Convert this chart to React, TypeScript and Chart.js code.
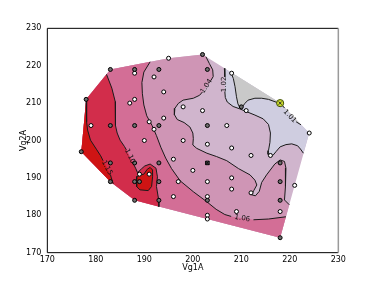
import React, { useEffect, useRef } from 'react';
import { Chart, registerables } from 'chart.js';

Chart.register(...registerables);

type P = [number, number];
type Pt = P | null;

// Axis range / ticks
const axisMin = 170;
const axisMax = 230;
const tickStep = 10;
const xTitle = 'Vg1A';
const yTitle = 'Vg2A';

// Convex hull of the measured points (Vg1A, Vg2A)
const hull: P[] = [
  [177, 197], [178, 211], [183, 219], [195, 222], [202, 223], [218, 210],
  [224, 202], [221, 188], [218, 174], [188, 184], [183, 189],
];

// Contour lines (null = gap for the inline label)
const c101: Pt[] = [
  [207.8, 218.3], [208.35, 216.6], [208.7, 214.4], [209.0, 211.7], [209.3, 209.8], [209.7, 208.8],
  [210.2, 209.0], [210.75, 209.95], [211.4, 210.8], [212.8, 211.3], [214.2, 211.3], [215.6, 211.0],
  [217.3, 210.2], [218.3, 209.6], [218.9, 208.7], null, [221.3, 205.0], [222.3, 204.2],
];
const c102: Pt[] = [
  [206.5, 219.3], [206.6, 217.0], null, [206.6, 213.1], [206.7, 211.5], [207.1, 210.3], [208.3, 209.1],
  [209.6, 208.5], [211.1, 207.7], [212.8, 206.8], [214.5, 205.8], [215.6, 204.3], [216.0, 202.0],
  [215.9, 199.5], [215.6, 197.3], [215.5, 196.3], [215.9, 195.8], [216.5, 196.0], [217.2, 197.1],
  [218.0, 198.3], [219.2, 198.9], [220.4, 199.1], [221.6, 198.6], [222.2, 197.7], [222.8, 196.6],
];
const c104: Pt[] = [
  [202.7, 222.4], [203.4, 220.6], [204.1, 218.9], [204.2, 217.1], [203.7, 216.0], null,
  [202.0, 213.0], [201.4, 212.1], [200.1, 211.3], [198.0, 210.8], [197.0, 209.9], [196.3, 208.6],
  [196.2, 206.9], [196.8, 205.6], [198.2, 204.8], [199.4, 203.6], [200.0, 202.0], [200.1, 200.5],
  [200.0, 198.8], [200.8, 197.9], [202.9, 196.6], [204.9, 195.7], [207.0, 194.6], [209.4, 192.5],
  [211.8, 190.8], [212.8, 189.4], [213.2, 188.1], [212.6, 186.7], [212.1, 185.5], [212.9, 185.2],
  [213.7, 186.4], [214.2, 188.8], [215.2, 190.8], [216.9, 193.7], [218.0, 194.8], [218.9, 194.4],
  [219.2, 192.6], [219.1, 187.7], [218.9, 184.1], [219.9, 182.8],
];
const c106: Pt[] = [
  [191.2, 221.05], [189.9, 218.3], [189.5, 215.5], [189.6, 212.5], [189.9, 209.5], [190.5, 206.6],
  [191.6, 204.0], [192.5, 201.3], [193.4, 198.2], [194.4, 195.3], [195.6, 192.5], [197.4, 189.2],
  [200.1, 186.3], [202.9, 183.6], [204.8, 181.6], [206.6, 180.2], [207.9, 179.7], null,
  [212.5, 178.8], [215.6, 179.0], [219.2, 179.6],
];
const c110: Pt[] = [
  [182.2, 217.7], [183.3, 214.0], [184.0, 210.4], [184.1, 206.8], [184.0, 204.0], [184.4, 202.0],
  [185.0, 200.1], [185.9, 198.4], [186.3, 197.5], null, [187.6, 194.1], [188.2, 192.6],
  [188.6, 191.4], [189.4, 192.4], [190.1, 193.2], [191.2, 193.7], [192.4, 192.6], [192.7, 190.3],
  [192.5, 187.7], [192.9, 184.6], [193.0, 182.3],
];
const c115: Pt[] = [
  [178.0, 210.6], [178.1, 207.5], [178.1, 205.0], [178.3, 202.8], [178.9, 200.1], [180.2, 197.5],
  [181.0, 195.9], [181.5, 194.6], null, [183.0, 190.9], [183.2, 190.0], [183.6, 188.4],
];
const island115: P[] = [
  [188.42, 190.34], [188.42, 187.66], [189.1, 186.8], [190.8, 186.6], [191.5, 187.7], [191.7, 190.3],
  [191.7, 192.1], [191.2, 192.8], [190.6, 192.3], [189.9, 191.0], [189.1, 190.7],
];

// Contour labels: text, Vg1A, Vg2A, angle (deg)
const labelText = ['1.01', '1.02', '1.04', '1.06', '1.10', '1.15'];
const labelX = [220.0, 206.5, 202.8, 210.2, 187.0, 182.3];
const labelY = [206.5, 215.0, 214.5, 179.2, 195.8, 192.7];
const labelAngle = [46, -90, -55, 10, 64, 63];

// Measured points
const darkPts: P[] = [
  [202, 223], [183, 219], [188, 219], [193, 219], [203, 219], [178, 211], [210, 209],
  [183, 204], [188, 204], [193, 204], [203, 204], [177, 197], [188, 194], [183, 194],
  [193, 194], [183, 189], [188, 189], [189, 189], [193, 189], [218, 194], [218, 189],
  [218, 184], [218, 174], [203, 184], [188, 184], [193, 184],
];
const whitePts: P[] = [
  [195, 222], [188, 218], [192, 217], [208, 218], [194, 213], [188, 211], [187, 210],
  [198, 209], [202, 208], [211, 208], [179, 204], [191, 205], [192, 203], [194, 206],
  [190, 200], [198, 200], [207, 204], [203, 199], [208, 198], [212, 196], [216, 196],
  [224, 202], [196, 195], [200, 192], [189, 191], [191, 191], [197, 189], [203, 189],
  [208, 190], [208, 187], [212, 186], [221, 188], [218, 181], [196, 185], [203, 185],
  [203, 180], [203, 179], [209, 181],
];
const crossedPts: P[] = [[203, 194]];
const highlightPts: P[] = [[218, 210]];

const solid = (a: Pt[]): P[] => a.filter((p) => p !== null) as P[];
const toXY = (a: Pt[]) => a.map((p) => (p ? { x: p[0], y: p[1] } : { x: null, y: null }));

const regions: { pts: P[]; color: string }[] = [
  { pts: hull, color: '#d0b5cd' },
  { pts: [...solid(c102), hull[6], hull[5]], color: '#cfcde0' },
  { pts: [...solid(c101), hull[5]], color: '#c9c9c9' },
  { pts: [...solid(c104), hull[8], hull[9], hull[10], hull[0], hull[1], hull[2], hull[3], hull[4]], color: '#cf95b5' },
  { pts: [...solid(c106), hull[8], hull[9], hull[10], hull[0], hull[1], hull[2]], color: '#d36e96' },
  { pts: [...solid(c110), hull[9], hull[10], hull[0], hull[1]], color: '#d22d4b' },
  { pts: [...solid(c115), hull[10], hull[0]], color: '#cf1414' },
  { pts: island115, color: '#cf1414' },
];

const FONT = '"DejaVu Sans", Verdana, sans-serif';

const fillPlugin = {
  id: 'contourFill',
  beforeDatasetsDraw(chart: any) {
    const { ctx, chartArea, scales } = chart;
    const xs = scales.x;
    const ys = scales.y;
    ctx.save();
    ctx.beginPath();
    ctx.rect(chartArea.left, chartArea.top, chartArea.right - chartArea.left, chartArea.bottom - chartArea.top);
    ctx.clip();
    for (const r of regions) {
      ctx.beginPath();
      r.pts.forEach((p, i) => {
        const px = xs.getPixelForValue(p[0]);
        const py = ys.getPixelForValue(p[1]);
        if (i === 0) ctx.moveTo(px, py);
        else ctx.lineTo(px, py);
      });
      ctx.closePath();
      ctx.fillStyle = r.color;
      ctx.fill();
    }
    ctx.restore();
  },
};

const labelPlugin = {
  id: 'contourLabels',
  afterDatasetsDraw(chart: any) {
    const { ctx, scales } = chart;
    ctx.save();
    ctx.font = `7px ${FONT}`;
    ctx.fillStyle = '#111';
    ctx.textAlign = 'center';
    ctx.textBaseline = 'middle';
    labelText.forEach((t, i) => {
      const px = scales.x.getPixelForValue(labelX[i]);
      const py = scales.y.getPixelForValue(labelY[i]);
      ctx.save();
      ctx.translate(px, py);
      ctx.rotate((labelAngle[i] * Math.PI) / 180);
      ctx.fillText(t, 0, 0);
      ctx.restore();
    });
    ctx.restore();
  },
};

const framePlugin = {
  id: 'frame',
  afterDraw(chart: any) {
    const { ctx, chartArea: a } = chart;
    ctx.save();
    ctx.strokeStyle = '#000';
    ctx.lineWidth = 1;
    ctx.beginPath();
    ctx.moveTo(a.right, a.top);
    ctx.lineTo(a.left, a.top);
    ctx.lineTo(a.left, a.bottom);
    ctx.lineTo(a.right, a.bottom);
    ctx.stroke();
    ctx.strokeStyle = '#9a9a9a';
    ctx.lineWidth = 1.5;
    ctx.beginPath();
    ctx.moveTo(a.right, a.top);
    ctx.lineTo(a.right, a.bottom);
    ctx.stroke();
    ctx.restore();
  },
};

export default function App() {
  const ref = useRef<HTMLCanvasElement>(null);
  useEffect(() => {
    if (!ref.current) return;
    const lineDs = (d: Pt[]) => ({
      type: 'scatter' as const,
      data: toXY(d),
      showLine: true,
      spanGaps: false,
      borderColor: '#1a1a1a',
      borderWidth: 1,
      pointRadius: 0,
      fill: false,
      tension: 0,
      order: 10,
    });
    const chart = new Chart(ref.current, {
      type: 'scatter',
      data: {
        datasets: [
          lineDs(c101),
          lineDs(c102),
          lineDs(c104),
          lineDs(c106),
          lineDs(c110),
          lineDs(c115),
          lineDs([...island115, island115[0]]),
          {
            data: darkPts.map((p) => ({ x: p[0], y: p[1] })),
            pointRadius: 2,
            pointBackgroundColor: '#6e6e6e',
            pointBorderColor: '#000',
            pointBorderWidth: 1,
            order: 5,
          },
          {
            data: whitePts.map((p) => ({ x: p[0], y: p[1] })),
            pointRadius: 2,
            pointBackgroundColor: '#ffffff',
            pointBorderColor: '#000',
            pointBorderWidth: 1,
            order: 5,
          },
          {
            data: crossedPts.map((p) => ({ x: p[0], y: p[1] })),
            pointStyle: 'rect',
            pointRadius: 2.5,
            pointBackgroundColor: '#777',
            pointBorderColor: '#000',
            pointBorderWidth: 1,
            order: 4,
          },
          {
            data: crossedPts.map((p) => ({ x: p[0], y: p[1] })),
            pointStyle: 'crossRot',
            pointRadius: 2.5,
            pointBorderColor: '#000',
            pointBorderWidth: 1,
            order: 3,
          },
          {
            data: highlightPts.map((p) => ({ x: p[0], y: p[1] })),
            pointRadius: 3.6,
            pointBackgroundColor: '#c9d82a',
            pointBorderColor: '#40500a',
            pointBorderWidth: 1,
            order: 2,
          },
          {
            data: highlightPts.map((p) => ({ x: p[0], y: p[1] })),
            pointStyle: 'crossRot',
            pointRadius: 2.2,
            pointBorderColor: '#333',
            pointBorderWidth: 1,
            order: 1,
          },
        ] as any,
      },
      options: {
        animation: false,
        responsive: true,
        maintainAspectRatio: false,
        events: [],
        layout: { padding: { top: 28.33, right: 37.67, left: 0, bottom: 0 } },
        plugins: { legend: { display: false }, tooltip: { enabled: false } },
        scales: {
          x: {
            type: 'linear',
            min: axisMin,
            max: axisMax,
            grid: { display: false, drawTicks: false },
            border: { display: false },
            ticks: { stepSize: tickStep, padding: 2.5, color: '#000', font: { family: FONT, size: 8 } },
            title: { display: true, text: xTitle, color: '#000', font: { family: FONT, size: 8 }, padding: { top: 0, bottom: 9.7 } },
            afterFit: (s: any) => { s.height = 29.33; },
          },
          y: {
            type: 'linear',
            min: axisMin,
            max: axisMax,
            grid: { display: false, drawTicks: false },
            border: { display: false },
            ticks: { stepSize: tickStep, padding: 6, color: '#000', font: { family: FONT, size: 8 } },
            title: { display: true, text: yTitle, color: '#000', font: { family: FONT, size: 8 }, padding: { top: 18.7, bottom: 0 } },
            afterFit: (s: any) => { s.width = 47.33; },
          },
        },
      },
      plugins: [fillPlugin, labelPlugin, framePlugin],
    } as any);
    return () => chart.destroy();
  }, []);
  return (
    <div style={{ position: 'absolute', left: 0, top: 0, width: 376, height: 282, background: '#fff' }}>
      <canvas ref={ref} />
    </div>
  );
}
